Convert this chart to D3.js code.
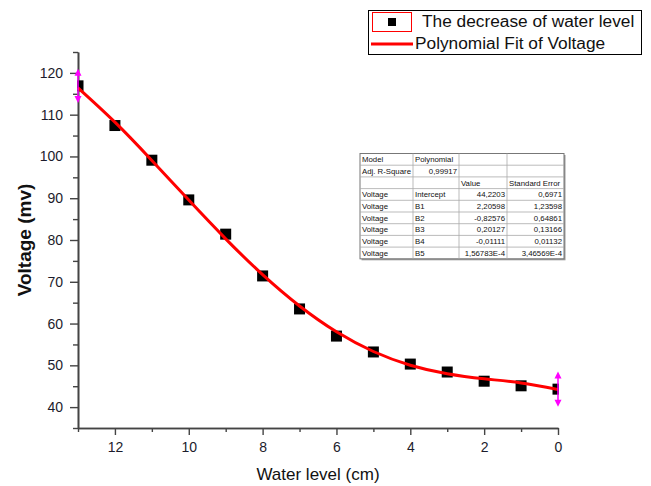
<!DOCTYPE html>
<html>
<head>
<meta charset="utf-8">
<script src="https://cdn.jsdelivr.net/npm/d3@7"></script>
<style>
  html, body { margin: 0; padding: 0; background: #fff; }
  svg { display: block; font-family: "Liberation Sans", Arial, sans-serif; }
</style>
</head>
<body>
<svg id="chart" width="651" height="486"></svg>
<script>
// ---- data ----
const waterLevel = [13, 12, 11, 10, 9, 8, 7, 6, 5, 4, 3, 2, 1, 0];
const voltage = [116.9, 107.4, 99.1, 89.6, 81.4, 71.4, 63.5, 57.0, 53.2, 50.3, 48.4, 46.2, 45.1, 44.3];
const fitLevel = [13, 12, 11, 10, 9, 8, 7, 6, 5, 4, 3, 2, 1, 0];
const fitVoltage = [116.43, 108.21, 99.05, 89.55, 80.28, 71.70, 64.20, 58.02, 53.31, 50.03, 47.98, 46.77, 45.79, 44.22];
const errLevel = [13, 0];
const errVoltage = [116.9, 44.3];
const errSize = [4.1, 4.2];
const xMajorTicks = [12, 10, 8, 6, 4, 2, 0];
const xMinorTicks = [13, 11, 9, 7, 5, 3, 1];
const yMajorTicks = [40, 50, 60, 70, 80, 90, 100, 110, 120];
const yMinorTicks = [35, 45, 55, 65, 75, 85, 95, 105, 115, 125];
const legendLabels = ["The decrease of water level", "Polynomial Fit of Voltage"];
const tableRows = [
  ["Model", "Polynomial", "", ""],
  ["Adj. R-Square", "0,99917", "", ""],
  ["", "", "Value", "Standard Error"],
  ["Voltage", "Intercept", "44,2203", "0,6971"],
  ["Voltage", "B1", "2,20598", "1,23598"],
  ["Voltage", "B2", "-0,82576", "0,64861"],
  ["Voltage", "B3", "0,20127", "0,13166"],
  ["Voltage", "B4", "-0,01111", "0,01132"],
  ["Voltage", "B5", "1,56783E-4", "3,46569E-4"]
];

// ---- layout ----
const svg = d3.select("#chart");
const L = 78, R = 558, T = 52, B = 428;
const x = d3.scaleLinear().domain([13, 0]).range([L, R]);
const y = d3.scaleLinear().domain([35, 125]).range([B, T]);
const axisColor = "#444";
const labelColor = "#1c1c2c";

svg.append("defs").append("clipPath").attr("id", "plotclip")
  .append("rect").attr("x", L - 1).attr("y", T - 10).attr("width", R - L + 2).attr("height", B - T + 20);

// minor axes
const gxMinor = svg.append("g").attr("transform", `translate(0,${B})`)
  .call(d3.axisBottom(x).tickValues(xMinorTicks).tickSize(4).tickSizeOuter(0).tickFormat(""));
const gyMinor = svg.append("g").attr("transform", `translate(${L},0)`)
  .call(d3.axisLeft(y).tickValues(yMinorTicks).tickSize(5).tickSizeOuter(0).tickFormat(""));
// major axes
const gx = svg.append("g").attr("transform", `translate(0,${B})`)
  .call(d3.axisBottom(x).tickValues(xMajorTicks).tickSize(7).tickSizeOuter(0).tickPadding(7).tickFormat(d3.format("d")));
const gy = svg.append("g").attr("transform", `translate(${L},0)`)
  .call(d3.axisLeft(y).tickValues(yMajorTicks).tickSize(8).tickSizeOuter(0).tickPadding(7).tickFormat(d3.format("d")));

[gxMinor, gyMinor, gx, gy].forEach(g => {
  g.selectAll("path.domain").attr("stroke", axisColor).attr("stroke-width", 1.6);
  g.selectAll(".tick line").attr("stroke", axisColor).attr("stroke-width", 1.4);
  g.selectAll("text").attr("fill", labelColor).style("font-size", "14px")
    .style("font-family", '"Liberation Sans", Arial, sans-serif');
});

// axis titles
svg.append("text").attr("x", (L + R) / 2).attr("y", 480).attr("text-anchor", "middle")
  .style("font-size", "17px").attr("fill", "#111").text("Water level (cm)");
svg.append("text").attr("transform", `translate(31,${(T + B) / 2}) rotate(-90)`)
  .attr("text-anchor", "middle").style("font-size", "19px").style("font-weight", "bold")
  .attr("fill", "#111").text("Voltage (mv)");

// points
const plot = svg.append("g").attr("clip-path", "url(#plotclip)");
const sq = 11;
plot.selectAll("rect.pt").data(waterLevel).enter().append("rect")
  .attr("class", "pt")
  .attr("x", (d) => x(d) - sq / 2)
  .attr("y", (d, i) => y(voltage[i]) - sq / 2)
  .attr("width", sq).attr("height", sq).attr("fill", "#000");

// fit line
const line = d3.line().x((d) => x(d)).y((d, i) => y(fitVoltage[i])).curve(d3.curveNatural);
plot.append("path").datum(fitLevel).attr("d", line)
  .attr("fill", "none").attr("stroke", "#f00").attr("stroke-width", 3);

// error bars (magenta arrows)
const eb = svg.append("g");
errLevel.forEach((lv, i) => {
  const cx = x(lv);
  const yt = y(errVoltage[i] + errSize[i]);
  const yb = y(errVoltage[i] - errSize[i]);
  eb.append("line").attr("x1", cx).attr("x2", cx).attr("y1", yt + 3).attr("y2", yb - 3)
    .attr("stroke", "#ff00ff").attr("stroke-width", 1.5);
  eb.append("path").attr("d", `M${cx},${yt} L${cx - 3.5},${yt + 7} L${cx + 3.5},${yt + 7} Z`).attr("fill", "#ff00ff");
  eb.append("path").attr("d", `M${cx},${yb} L${cx - 3.5},${yb - 7} L${cx + 3.5},${yb - 7} Z`).attr("fill", "#ff00ff");
});

// legend
const lg = svg.append("g");
lg.append("rect").attr("x", 368.5).attr("y", 10.5).attr("width", 273).attr("height", 44)
  .attr("fill", "#fff").attr("stroke", "#000").attr("stroke-width", 1);
lg.append("rect").attr("x", 372.5).attr("y", 12.5).attr("width", 39).attr("height", 19)
  .attr("fill", "none").attr("stroke", "#f00").attr("stroke-width", 1);
lg.append("rect").attr("x", 388).attr("y", 18).attr("width", 8).attr("height", 8).attr("fill", "#000");
lg.append("line").attr("x1", 371).attr("x2", 413).attr("y1", 44).attr("y2", 44)
  .attr("stroke", "#f00").attr("stroke-width", 3);
lg.append("text").attr("x", 422).attr("y", 27).style("font-size", "17.3px").attr("fill", "#111").text(legendLabels[0]);
lg.append("text").attr("x", 415).attr("y", 49).style("font-size", "17.3px").attr("fill", "#111").text(legendLabels[1]);

// table
const colX = [360, 413, 459, 507, 564];
const tTop = 153.5, rowH = 11.7;
const tg = svg.append("g");
const tW = colX[4] - colX[0], tH = rowH * tableRows.length;
tg.append("rect").attr("x", colX[0] + 1.5).attr("y", tTop + 1.5).attr("width", tW).attr("height", tH).attr("fill", "#999");
tg.append("rect").attr("x", colX[0]).attr("y", tTop).attr("width", tW).attr("height", tH)
  .attr("fill", "#fff").attr("stroke", "#777").attr("stroke-width", 1);
for (let r = 1; r < tableRows.length; r++) {
  tg.append("line").attr("x1", colX[0]).attr("x2", colX[4]).attr("y1", tTop + r * rowH).attr("y2", tTop + r * rowH)
    .attr("stroke", "#aaa").attr("stroke-width", 0.8);
}
for (let c = 1; c < 4; c++) {
  tg.append("line").attr("x1", colX[c]).attr("x2", colX[c]).attr("y1", tTop).attr("y2", tTop + tH)
    .attr("stroke", "#aaa").attr("stroke-width", 0.8);
}
tableRows.forEach((row, r) => {
  row.forEach((cell, c) => {
    if (!cell) return;
    const numeric = /^-?[0-9]/.test(cell);
    const t = tg.append("text").attr("y", tTop + r * rowH + 8.6)
      .style("font-size", "7.8px").attr("fill", "#111").text(cell);
    if (numeric && c > 0) {
      t.attr("x", colX[c + 1] - 2).attr("text-anchor", "end");
    } else {
      t.attr("x", colX[c] + 2);
    }
  });
});
</script>
</body>
</html>
